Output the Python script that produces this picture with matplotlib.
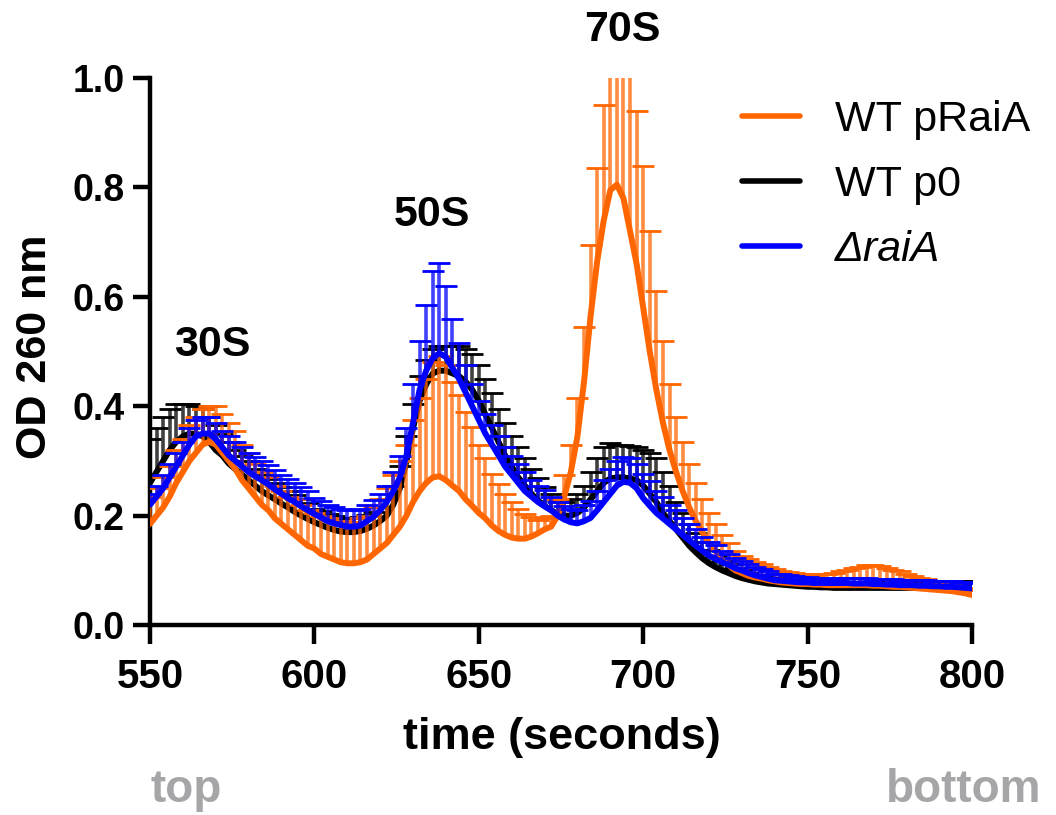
import numpy as np
import matplotlib
matplotlib.use('Agg')
import matplotlib.pyplot as plt

plt.rcParams['font.family'] = ['Liberation Sans', 'DejaVu Sans']
plt.rcParams['axes.linewidth'] = 3.2

# sampling times (s), one reading every 2 s
t = np.arange(550, 801, 2)

# WT pRaiA (orange): mean trace and upper SD
wt_praia = [0.185, 0.20, 0.215, 0.235, 0.26, 0.28, 0.30, 0.315, 0.33, 0.335,
            0.33, 0.315, 0.30, 0.285, 0.265, 0.25, 0.235, 0.22, 0.21, 0.195,
            0.185, 0.175, 0.165, 0.155, 0.145, 0.14, 0.13, 0.125, 0.12, 0.115,
            0.113, 0.113, 0.115, 0.12, 0.13, 0.14, 0.15, 0.165, 0.18, 0.20,
            0.225, 0.245, 0.26, 0.27, 0.272, 0.265, 0.255, 0.245, 0.23, 0.218,
            0.205, 0.195, 0.182, 0.172, 0.165, 0.16, 0.158, 0.158, 0.162, 0.168,
            0.175, 0.18, 0.20, 0.235, 0.28, 0.345, 0.445, 0.565, 0.665, 0.74,
            0.795, 0.805, 0.78, 0.72, 0.66, 0.58, 0.50, 0.43, 0.37, 0.32,
            0.28, 0.245, 0.215, 0.19, 0.17, 0.15, 0.135, 0.12, 0.11, 0.10,
            0.095, 0.09, 0.087, 0.085, 0.082, 0.08, 0.078, 0.077, 0.076, 0.075,
            0.075, 0.074, 0.074, 0.073, 0.073, 0.073, 0.073, 0.073, 0.073, 0.073,
            0.072, 0.072, 0.071, 0.07, 0.07, 0.069, 0.068, 0.067, 0.066, 0.065,
            0.064, 0.063, 0.062, 0.06, 0.058, 0.055]
wt_praia_sd = [0.05, 0.05, 0.055, 0.055, 0.06, 0.06, 0.065, 0.065, 0.065, 0.065,
               0.07, 0.07, 0.07, 0.07, 0.065, 0.065, 0.06, 0.06, 0.06, 0.06,
               0.06, 0.06, 0.065, 0.065, 0.065, 0.065, 0.07, 0.07, 0.07, 0.075,
               0.075, 0.075, 0.08, 0.08, 0.085, 0.09, 0.10, 0.11, 0.12, 0.13,
               0.15, 0.17, 0.19, 0.21, 0.22, 0.21, 0.19, 0.175, 0.16, 0.145,
               0.125, 0.11, 0.095, 0.085, 0.075, 0.065, 0.055, 0.045, 0.035, 0.025,
               0.02, 0.02, 0.03, 0.04, 0.05, 0.07, 0.10, 0.13, 0.17, 0.21,
               0.25, 0.27, 0.29, 0.29, 0.28, 0.26, 0.22, 0.18, 0.15, 0.12,
               0.10, 0.09, 0.08, 0.07, 0.06, 0.055, 0.05, 0.045, 0.04, 0.035,
               0.032, 0.03, 0.028, 0.026, 0.024, 0.022, 0.021, 0.02, 0.019, 0.018,
               0.018, 0.018, 0.019, 0.02, 0.022, 0.025, 0.028, 0.031, 0.034, 0.036,
               0.037, 0.036, 0.034, 0.031, 0.028, 0.025, 0.022, 0.02, 0.018, 0.016,
               0.014, 0.012, 0.011, 0.01, 0.01, 0.01]

# WT p0 (black)
wt_p0 = [0.26, 0.28, 0.30, 0.32, 0.335, 0.345, 0.35, 0.35, 0.345, 0.335,
         0.32, 0.31, 0.295, 0.285, 0.275, 0.265, 0.255, 0.245, 0.237, 0.23,
         0.222, 0.215, 0.207, 0.20, 0.194, 0.188, 0.183, 0.178, 0.174, 0.171,
         0.17, 0.17, 0.172, 0.176, 0.182, 0.19, 0.20, 0.22, 0.25, 0.30,
         0.36, 0.41, 0.44, 0.46, 0.465, 0.465, 0.46, 0.455, 0.445, 0.43,
         0.41, 0.385, 0.36, 0.335, 0.31, 0.29, 0.27, 0.255, 0.24, 0.228,
         0.218, 0.21, 0.203, 0.20, 0.2, 0.205, 0.215, 0.23, 0.245, 0.26,
         0.268, 0.27, 0.27, 0.268, 0.265, 0.255, 0.24, 0.225, 0.205, 0.19,
         0.175, 0.16, 0.145, 0.133, 0.122, 0.113, 0.106, 0.10, 0.095, 0.09,
         0.086, 0.083, 0.08, 0.078, 0.076, 0.075, 0.074, 0.073, 0.072, 0.071,
         0.07, 0.07, 0.069, 0.069, 0.068, 0.068, 0.068, 0.068, 0.068, 0.068,
         0.068, 0.068, 0.068, 0.068, 0.068, 0.068, 0.068, 0.068, 0.069, 0.069,
         0.069, 0.07, 0.07, 0.07, 0.07, 0.07]
wt_p0_sd = [0.08, 0.08, 0.08, 0.075, 0.07, 0.06, 0.055, 0.05, 0.05, 0.045,
            0.045, 0.04, 0.04, 0.035, 0.035, 0.035, 0.03, 0.03, 0.03, 0.03,
            0.03, 0.03, 0.03, 0.03, 0.03, 0.025, 0.025, 0.025, 0.025, 0.025,
            0.025, 0.025, 0.025, 0.025, 0.025, 0.025, 0.03, 0.035, 0.04, 0.045,
            0.045, 0.045, 0.045, 0.045, 0.045, 0.045, 0.05, 0.055, 0.06, 0.065,
            0.065, 0.065, 0.065, 0.06, 0.06, 0.055, 0.055, 0.05, 0.045, 0.04,
            0.035, 0.03, 0.025, 0.025, 0.03, 0.035, 0.04, 0.05, 0.06, 0.065,
            0.065, 0.06, 0.06, 0.06, 0.06, 0.065, 0.075, 0.08, 0.075, 0.065,
            0.05, 0.045, 0.04, 0.035, 0.03, 0.025, 0.02, 0.018, 0.016, 0.015,
            0.014, 0.013, 0.012, 0.012, 0.011, 0.011, 0.01, 0.01, 0.01, 0.01,
            0.01, 0.01, 0.01, 0.01, 0.01, 0.01, 0.01, 0.01, 0.01, 0.01,
            0.01, 0.01, 0.01, 0.01, 0.01, 0.01, 0.01, 0.01, 0.01, 0.01,
            0.01, 0.01, 0.01, 0.01, 0.01, 0.01]

# delta raiA (blue)
draia = [0.22, 0.235, 0.25, 0.27, 0.29, 0.31, 0.33, 0.345, 0.35, 0.35,
         0.34, 0.325, 0.31, 0.30, 0.29, 0.28, 0.272, 0.265, 0.257, 0.248,
         0.24, 0.232, 0.225, 0.217, 0.21, 0.203, 0.197, 0.19, 0.186, 0.183,
         0.18, 0.18, 0.182, 0.19, 0.198, 0.21, 0.225, 0.245, 0.27, 0.31,
         0.37, 0.43, 0.465, 0.488, 0.497, 0.49, 0.47, 0.45, 0.425, 0.40,
         0.375, 0.35, 0.33, 0.31, 0.29, 0.275, 0.26, 0.245, 0.235, 0.225,
         0.217, 0.21, 0.20, 0.193, 0.188, 0.186, 0.19, 0.196, 0.21, 0.225,
         0.24, 0.255, 0.262, 0.26, 0.25, 0.232, 0.218, 0.205, 0.195, 0.185,
         0.175, 0.165, 0.155, 0.145, 0.136, 0.127, 0.121, 0.115, 0.11, 0.104,
         0.10, 0.095, 0.091, 0.088, 0.085, 0.082, 0.081, 0.08, 0.079, 0.078,
         0.078, 0.077, 0.077, 0.077, 0.077, 0.077, 0.077, 0.076, 0.076, 0.076,
         0.075, 0.075, 0.074, 0.074, 0.073, 0.073, 0.073, 0.072, 0.072, 0.071,
         0.071, 0.07, 0.07, 0.069, 0.068, 0.067]
draia_sd = [0.02, 0.02, 0.025, 0.025, 0.025, 0.025, 0.03, 0.03, 0.03, 0.03,
            0.03, 0.03, 0.035, 0.035, 0.035, 0.035, 0.035, 0.035, 0.035, 0.035,
            0.035, 0.035, 0.035, 0.035, 0.035, 0.03, 0.03, 0.03, 0.03, 0.03,
            0.03, 0.03, 0.03, 0.03, 0.03, 0.03, 0.03, 0.035, 0.04, 0.05,
            0.07, 0.09, 0.12, 0.16, 0.165, 0.13, 0.09, 0.065, 0.05, 0.04,
            0.035, 0.035, 0.035, 0.035, 0.035, 0.035, 0.035, 0.035, 0.03, 0.03,
            0.03, 0.025, 0.025, 0.025, 0.025, 0.025, 0.03, 0.03, 0.035, 0.04,
            0.045, 0.045, 0.045, 0.045, 0.045, 0.045, 0.045, 0.04, 0.04, 0.035,
            0.035, 0.03, 0.03, 0.03, 0.025, 0.025, 0.025, 0.02, 0.02, 0.018,
            0.017, 0.016, 0.015, 0.014, 0.013, 0.012, 0.012, 0.011, 0.011, 0.01,
            0.01, 0.01, 0.01, 0.01, 0.01, 0.01, 0.01, 0.01, 0.01, 0.01,
            0.01, 0.01, 0.01, 0.01, 0.01, 0.01, 0.01, 0.01, 0.01, 0.01,
            0.01, 0.01, 0.01, 0.01, 0.01, 0.01]

series = [('WT p0', wt_p0, wt_p0_sd, 'black'),
          ('WT pRaiA', wt_praia, wt_praia_sd, '#ff6600'),
          ('ΔraiA', draia, draia_sd, '#0000ff')]

fig = plt.figure(figsize=(10.56, 8.15), dpi=100)
ax = fig.add_axes([0.142, 0.233, 0.7785, 0.6713])

handles = {}
for z, (name, m, sd, col) in enumerate(series):
    m = np.array(m)
    up = m + np.array(sd)
    ax.vlines(t, m, up, color=col, lw=2.6, alpha=0.75, zorder=2 + z)
    ax.plot(t, up, ls='none', marker='_', ms=16, mew=2.0, color=col, zorder=2 + z)
    ln, = ax.plot(t, m, color=col, lw=4.3, zorder=2.5 + z, solid_capstyle='round')
    handles[name] = ln

ax.set_xlim(550, 800)
ax.set_ylim(0, 1.0)
ax.set_xticks([550, 600, 650, 700, 750, 800])
ax.set_yticks([0.0, 0.2, 0.4, 0.6, 0.8, 1.0])
ax.set_yticklabels(['0.0', '0.2', '0.4', '0.6', '0.8', '1.0'])
ax.spines['top'].set_visible(False)
ax.spines['right'].set_visible(False)
ax.tick_params(direction='out', length=12, width=3.2)
ax.tick_params(axis='x', length=14, pad=10)
ax.tick_params(axis='y', pad=6)
for lab in ax.get_yticklabels():
    lab.set_fontsize(27)
    lab.set_fontweight('bold')
for lab in ax.get_xticklabels():
    lab.set_fontsize(29)
    lab.set_fontweight('bold')

fig.text(0.532, 0.0945, 'time (seconds)', fontsize=32.5,
         fontweight='bold', ha='center', va='center')
fig.text(0.033, 0.574, 'OD 260 nm', fontsize=31, fontweight='bold',
         rotation=90, ha='center', va='center')

ax.text(568.9, 0.512, '30S', fontsize=31, fontweight='bold', ha='center', va='center')
ax.text(635.8, 0.75, '50S', fontsize=31, fontweight='bold', ha='center', va='center')
ax.text(693.5, 1.088, '70S', fontsize=31, fontweight='bold', ha='center', va='center')

fig.text(0.176, 0.031, 'top', fontsize=33, fontweight='bold',
         color='#a6a6a9', ha='center', va='center')
fig.text(0.913, 0.031, 'bottom', fontsize=33, fontweight='bold',
         color='#a6a6a9', ha='center', va='center')

leg = ax.legend([handles['WT pRaiA'], handles['WT p0'], handles['ΔraiA']],
                ['WT pRaiA', 'WT p0', 'ΔraiA'],
                loc='upper left', bbox_to_anchor=(0.7027, 0.877),
                bbox_transform=fig.transFigure, frameon=False, fontsize=31,
                handlelength=1.35, handletextpad=0.8, labelspacing=0.58,
                borderpad=0, borderaxespad=0)
leg.get_texts()[2].set_style('italic')
for h in leg.get_lines():
    h.set_linewidth(4)

plt.savefig('out.png', dpi=100, facecolor='w')
